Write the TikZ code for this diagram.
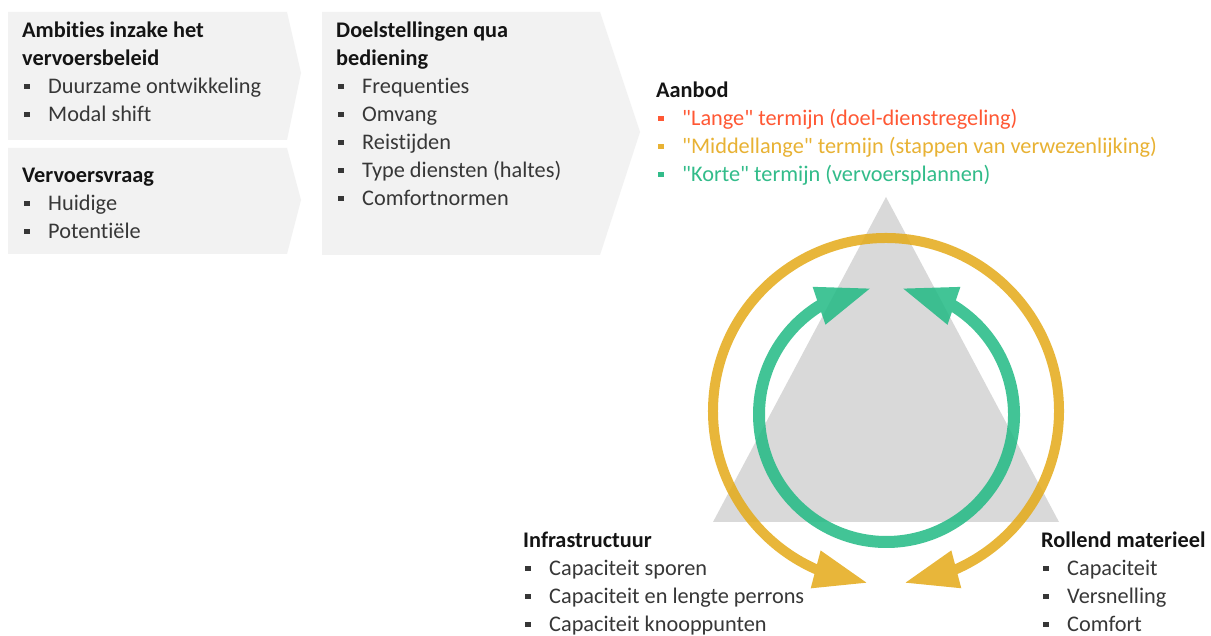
\documentclass[tikz,border=0pt]{standalone}
\usepackage{fontspec}
\setmainfont{Carlito}[Ligatures={NoCommon,TeXOff}]
\usepackage{tikz}
\usetikzlibrary{arrows.meta, bending, positioning}
\definecolor{boxbg}{RGB}{242,242,242}
\definecolor{trigray}{RGB}{217,217,217}
\definecolor{titletext}{RGB}{20,20,20}
\definecolor{bodytext}{RGB}{55,55,55}
\definecolor{ringyellow}{RGB}{228,170,24}
\definecolor{ringgreen}{RGB}{33,186,132}
\definecolor{longred}{RGB}{255,88,52}
\definecolor{midyellow}{RGB}{232,178,52}
\definecolor{shortgreen}{RGB}{50,188,138}
\newcommand{\blt}{\makebox[26pt][l]{\hspace{2pt}\rule[4.5pt]{5.5pt}{5.5pt}}}
\tikzset{
    line/.style={inner sep=0pt, text height=20pt, text depth=7.6pt, font=\fontsize{22.3}{26}\selectfont, text=bodytext},
    head/.style={line, font=\fontsize{22.3}{26}\selectfont\bfseries, text=titletext},
    under/.style={below=0pt of #1.south west, anchor=north west},
    chevron/.style={fill=boxbg, draw=none},
    ringY/.style={draw=ringyellow, line width=10pt, {Triangle[length=54pt, width=36pt]}-{Triangle[length=54pt, width=36pt]}},
    ringG/.style={draw=ringgreen, line width=12pt, {Triangle[length=56pt, width=36pt]}-{Triangle[length=56pt, width=36pt]}}
}

\begin{document}
\begin{tikzpicture}[x=1pt, y=1pt]
    \fill[white] (0,0) rectangle (1211,635);
    \useasboundingbox (0,0) rectangle (1211,635);

    % Chevron boxes
    \fill[chevron] (8,623) -- (287,623) -- (301,562) -- (287,495) -- (8,495) -- cycle;
    \fill[chevron] (8,487) -- (287,487) -- (301,435) -- (287,381) -- (8,381) -- cycle;
    \fill[chevron] (322,623) -- (600,623) -- (640,503) -- (600,380) -- (322,380) -- cycle;

    % Ambities
    \node (amb1) [head, anchor=base west] at (22,597) {Ambities inzake het};
    \node (amb2) [head, under=amb1] {vervoersbeleid};
    \node (amb3) [line, under=amb2] {\blt Duurzame ontwikkeling};
    \node (amb4) [line, under=amb3] {\blt Modal shift};

    % Vervoersvraag
    \node (vraag1) [head, anchor=base west] at (22,452) {Vervoersvraag};
    \node (vraag2) [line, under=vraag1] {\blt Huidige};
    \node (vraag3) [line, under=vraag2] {\blt Potentiële};

    % Doelstellingen
    \node (doel1) [head, anchor=base west] at (336,597) {Doelstellingen qua};
    \node (doel2) [head, under=doel1] {bediening};
    \node (doel3) [line, under=doel2] {\blt Frequenties};
    \node (doel4) [line, under=doel3] {\blt Omvang};
    \node (doel5) [line, under=doel4] {\blt Reistijden};
    \node (doel6) [line, under=doel5] {\blt Type diensten (haltes)};
    \node (doel7) [line, under=doel6] {\blt Comfortnormen};

    % Aanbod
    \node (aanbod1) [head, anchor=base west] at (656,537) {Aanbod};
    \node (aanbod2) [line, under=aanbod1, text=longred] {\blt "Lange" termijn (doel-dienstregeling)};
    \node (aanbod3) [line, under=aanbod2, text=midyellow] {\blt "Middellange" termijn (stappen van verwezenlijking)};
    \node (aanbod4) [line, under=aanbod3, text=shortgreen] {\blt "Korte" termijn (vervoersplannen)};

    % Triangle and cycles
    \fill[trigray] (886,438) -- (1059,113) -- (713,113) -- cycle;
    \coordinate (ymid) at (886,224);
    \coordinate (gmid) at (886.5,220.5);
    \begin{scope}[transparency group, opacity=0.85]
        \draw[ringY] (ymid) ++(264:173) arc[start angle=264, end angle=-84, radius=173];
    \end{scope}
    \begin{scope}[transparency group, opacity=0.85]
        \draw[ringG] (gmid) ++(96.5:127.5) arc[start angle=96.5, end angle=443.5, radius=127.5];
    \end{scope}

    % Infrastructuur
    \node (infra1) [head, anchor=base west] at (523,87) {Infrastructuur};
    \node (infra2) [line, under=infra1] {\blt Capaciteit sporen};
    \node (infra3) [line, under=infra2] {\blt Capaciteit en lengte perrons};
    \node (infra4) [line, under=infra3] {\blt Capaciteit knooppunten};

    % Rollend materieel
    \node (roll1) [head, anchor=base west] at (1041,87) {Rollend materieel};
    \node (roll2) [line, under=roll1] {\blt Capaciteit};
    \node (roll3) [line, under=roll2] {\blt Versnelling};
    \node (roll4) [line, under=roll3] {\blt Comfort};
\end{tikzpicture}
\end{document}
